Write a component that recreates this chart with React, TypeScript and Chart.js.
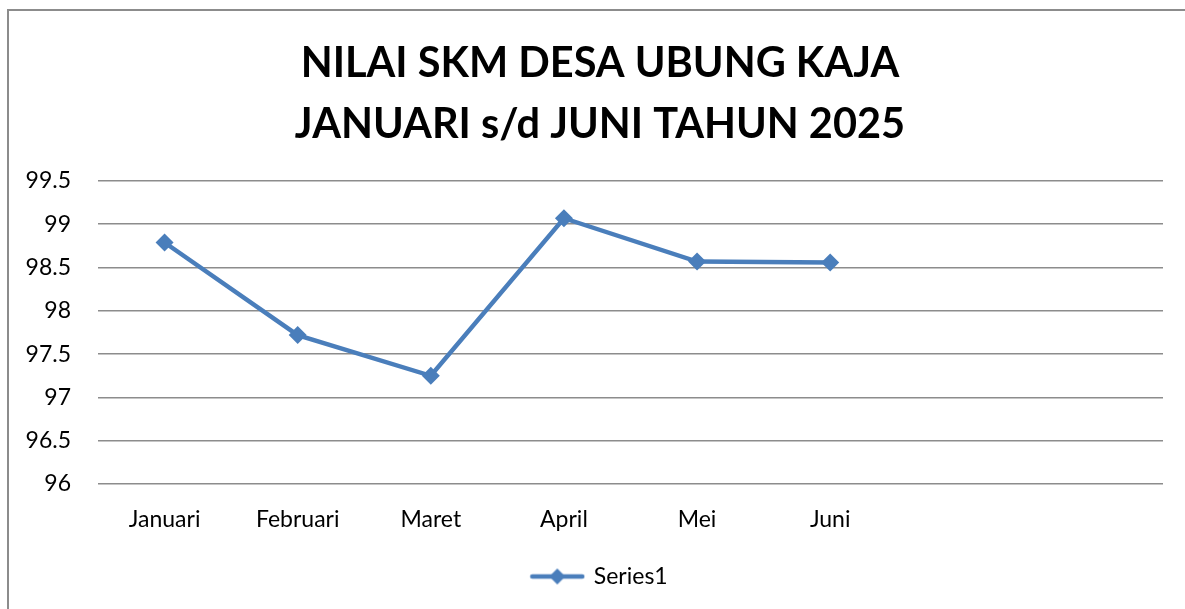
import React, { useEffect, useRef } from "react";
import { Chart, registerables } from "chart.js";

Chart.register(...registerables);

const titleLines = ["NILAI SKM DESA UBUNG KAJA", "JANUARI s/d JUNI TAHUN 2025"];
const categories = ["Januari", "Februari", "Maret", "April", "Mei", "Juni", "", ""];
const seriesName = "Series1";
const seriesValues: (number | null)[] = [98.79, 97.72, 97.25, 99.07, 98.57, 98.56, null, null];
const yMin = 96;
const yMax = 99.5;
const yStep = 0.5;

const LINE_COLOR = "#4a7ebb";
const FONT = "Lato, 'Open Sans', sans-serif";

function makeLegendIcon(): HTMLCanvasElement {
  const c = document.createElement("canvas");
  c.width = 56;
  c.height = 20;
  const ctx = c.getContext("2d")!;
  ctx.strokeStyle = LINE_COLOR;
  ctx.lineWidth = 4.5;
  ctx.lineCap = "round";
  ctx.beginPath();
  ctx.moveTo(3, 10);
  ctx.lineTo(53, 10);
  ctx.stroke();
  ctx.fillStyle = LINE_COLOR;
  ctx.beginPath();
  ctx.moveTo(28, 2);
  ctx.lineTo(36, 10);
  ctx.lineTo(28, 18);
  ctx.lineTo(20, 10);
  ctx.closePath();
  ctx.fill();
  return c;
}

export default function App() {
  const ref = useRef<HTMLCanvasElement | null>(null);

  useEffect(() => {
    if (!ref.current) return;
    const icon = makeLegendIcon();
    const chart = new Chart(ref.current, {
      type: "line",
      data: {
        labels: categories,
        datasets: [
          {
            label: seriesName,
            data: seriesValues,
            borderColor: LINE_COLOR,
            backgroundColor: LINE_COLOR,
            borderWidth: 4.5,
            pointStyle: "rectRot",
            pointRadius: 9,
            pointBorderWidth: 0,
            pointBackgroundColor: LINE_COLOR,
            tension: 0,
            spanGaps: false,
          },
        ],
      },
      options: {
        animation: false,
        responsive: false,
        devicePixelRatio: 1,
        layout: { padding: { left: 15, right: 0, top: 0, bottom: 11 } },
        plugins: {
          title: {
            display: true,
            text: titleLines,
            color: "#000",
            font: { family: FONT, size: 41.5, weight: "bold", lineHeight: 1.47 },
            padding: { top: 33, bottom: 26 },
          },
          legend: {
            display: true,
            position: "bottom",
            labels: {
              color: "#000",
              font: { family: FONT, size: 23 },
              usePointStyle: true,
              pointStyleWidth: 50,
              padding: 10,
              generateLabels: (ch: any) =>
                ch.data.datasets.map((ds: any, i: number) => ({
                  text: ds.label,
                  pointStyle: icon,
                  fillStyle: LINE_COLOR,
                  strokeStyle: LINE_COLOR,
                  lineWidth: 0,
                  hidden: false,
                  datasetIndex: i,
                  fontColor: "#000",
                })),
            },
          },
          tooltip: { enabled: false },
        },
        scales: {
          x: {
            type: "category",
            offset: true,
            grid: { display: false, drawTicks: false },
            border: { display: false },
            ticks: {
              color: "#000",
              font: { family: FONT, size: 23 },
              padding: 22,
              maxRotation: 0,
              autoSkip: false,
            },
            afterFit: (s: any) => {
              s.height = 71;
            },
          },
          y: {
            min: yMin,
            max: yMax,
            grid: { color: "#8c8c8c", lineWidth: 1.6, drawTicks: false },
            border: { display: false },
            ticks: {
              stepSize: yStep,
              color: "#000",
              font: { family: FONT, size: 23 },
              padding: 27,
              callback: (v: any) => String(Number(v)),
            },
            afterFit: (s: any) => {
              s.width = 83;
            },
          },
          spacer: {
            type: "linear",
            position: "right",
            display: true,
            grid: { display: false, drawTicks: false },
            border: { display: false },
            ticks: { display: false },
            afterFit: (s: any) => {
              s.width = 22;
            },
          },
        },
      },
    });
    return () => chart.destroy();
  }, []);

  return (
    <div style={{ position: "fixed", left: 0, top: 0, width: 1185, height: 609, overflow: "hidden", background: "#fff" }}>
      <div
        style={{
          position: "absolute",
          left: 7,
          top: 9,
          width: 1300,
          height: 700,
          borderLeft: "2px solid #8c8c8c",
          borderTop: "2px solid #8c8c8c",
        }}
      />
      <canvas ref={ref} width={1185} height={609} style={{ position: "absolute", left: 0, top: 0, width: 1185, height: 609 }} />
    </div>
  );
}
